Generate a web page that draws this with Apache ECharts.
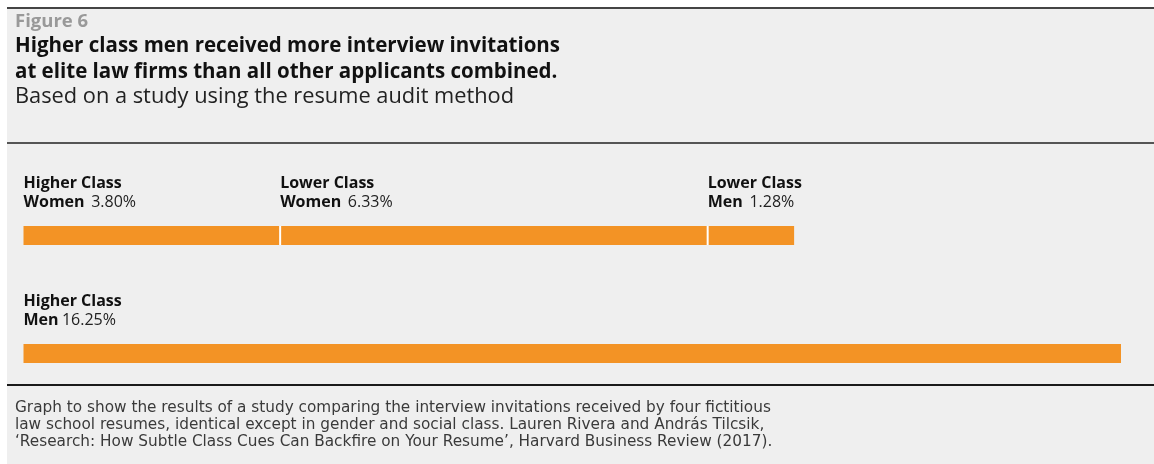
<!DOCTYPE html>
<html>
<head>
<meta charset="utf-8">
<script src="https://cdn.jsdelivr.net/npm/echarts@6/dist/echarts.min.js"></script>
<style>
  html, body { margin: 0; padding: 0; background: #ffffff; }
  #chart { width: 1154px; height: 464px; }
</style>
</head>
<body>
<div id="chart"></div>
<script>
// Interview invitation rates by applicant profile (percent)
const classNames = ['Higher Class', 'Lower Class', 'Lower Class', 'Higher Class'];
const genderNames = ['Women', 'Women', 'Men', 'Men'];
const invitationRates = [3.80, 6.33, 1.28, 16.25];
const rowIndex = [0, 0, 0, 1];
const rowNames = ['others', 'higherMen'];
const valueGaps = ['  ', '  ', '  ', ' '];

const figureLabel = 'Figure 6';
const titleLines = [
  'Higher class men received more interview invitations',
  'at elite law firms than all other applicants combined.'
];
const subtitleText = 'Based on a study using the resume audit method';
const footerLines = [
  'Graph to show the results of a study comparing the interview invitations received by four fictitious',
  'law school resumes, identical except in gender and social class. Lauren Rivera and Andr\u00e1s Tilcsik,',
  '\u2018Research: How Subtle Class Cues Can Backfire on Your Resume\u2019, Harvard Business Review (2017).'
];

const ORANGE = '#f39325';
const PANEL = '#efefef';
const FONT = '"Open Sans", "Noto Sans", sans-serif';
const FOOT_FONT = '"DejaVu Sans", "Open Sans", sans-serif';

// segments are laid end to end within each row
const rowTotals = rowNames.map(() => 0);
const segments = invitationRates.map((v, i) => {
  const r = rowIndex[i];
  const start = rowTotals[r];
  rowTotals[r] += v;
  return [start, v, r, i];
});

const chart = echarts.init(document.getElementById('chart'), null, { renderer: 'canvas' });

function renderSegment(params, api) {
  const start = api.value(0);
  const val = api.value(1);
  const row = api.value(2);
  const idx = api.value(3);
  const a = api.coord([start, row]);
  const b = api.coord([start + val, row]);
  const h = 19;
  const children = [{
    type: 'rect',
    shape: { x: a[0], y: a[1] - h / 2, width: b[0] - a[0], height: h },
    style: { fill: ORANGE },
    textContent: {
      style: {
        text: '{c|' + classNames[idx] + '}\n{g|' + genderNames[idx] + '}' + valueGaps[idx] + '{v|' + val.toFixed(2) + '%}',
        align: 'left',
        verticalAlign: 'bottom',
        rich: {
          c: { fontFamily: FONT, fontWeight: 'bold', fontSize: 16, lineHeight: 19, fill: '#111' },
          g: { fontFamily: FONT, fontWeight: 'bold', fontSize: 16, lineHeight: 19, fill: '#111' },
          v: { fontFamily: FONT, fontWeight: 'normal', fontSize: 16, lineHeight: 19, fill: '#222' }
        }
      }
    },
    textConfig: { position: [0, -14] }
  }];
  if (start > 0) {
    children.push({
      type: 'rect',
      shape: { x: a[0] - 1, y: a[1] - h / 2, width: 2, height: h },
      style: { fill: '#ffffff' }
    });
  }
  return { type: 'group', children: children };
}

const headerText = [
  { type: 'text', left: 15, top: 12, style: { text: figureLabel, font: 'bold 18.5px ' + FONT, fill: '#999999' } },
  { type: 'text', left: 15, top: 36, style: { text: titleLines[0], font: 'bold 20.5px ' + FONT, fill: '#111111' } },
  { type: 'text', left: 15, top: 62, style: { text: titleLines[1], font: 'bold 20.5px ' + FONT, fill: '#111111' } },
  { type: 'text', left: 15, top: 86, style: { text: subtitleText, font: 'normal 21.8px ' + FONT, fill: '#222222' } }
];
const footerText = footerLines.map((t, i) => ({
  type: 'text', left: 15, top: 401 + i * 17,
  style: { text: t, font: 'normal 15.3px ' + FOOT_FONT, fill: '#3a3a3a' }
}));

chart.setOption({
  backgroundColor: '#ffffff',
  animation: false,
  graphic: [
    { type: 'rect', left: 7, top: 7, shape: { width: 1147, height: 457 }, style: { fill: PANEL }, z: -10 },
    { type: 'rect', left: 7, top: 7, shape: { width: 1147, height: 2 }, style: { fill: '#444444' } },
    { type: 'rect', left: 7, top: 142, shape: { width: 1147, height: 2 }, style: { fill: '#555555' } },
    { type: 'rect', left: 7, top: 384, shape: { width: 1147, height: 2 }, style: { fill: '#1a1a1a' } }
  ].concat(headerText, footerText),
  grid: { left: 23.5, width: 1097.5, top: 176.5, height: 236 },
  xAxis: { type: 'value', min: 0, max: 16.25, show: false },
  yAxis: { type: 'category', data: rowNames, inverse: true, show: false },
  series: [{
    type: 'custom',
    renderItem: renderSegment,
    encode: { x: [0], y: 2 },
    data: segments,
    silent: true
  }]
});
</script>
</body>
</html>
